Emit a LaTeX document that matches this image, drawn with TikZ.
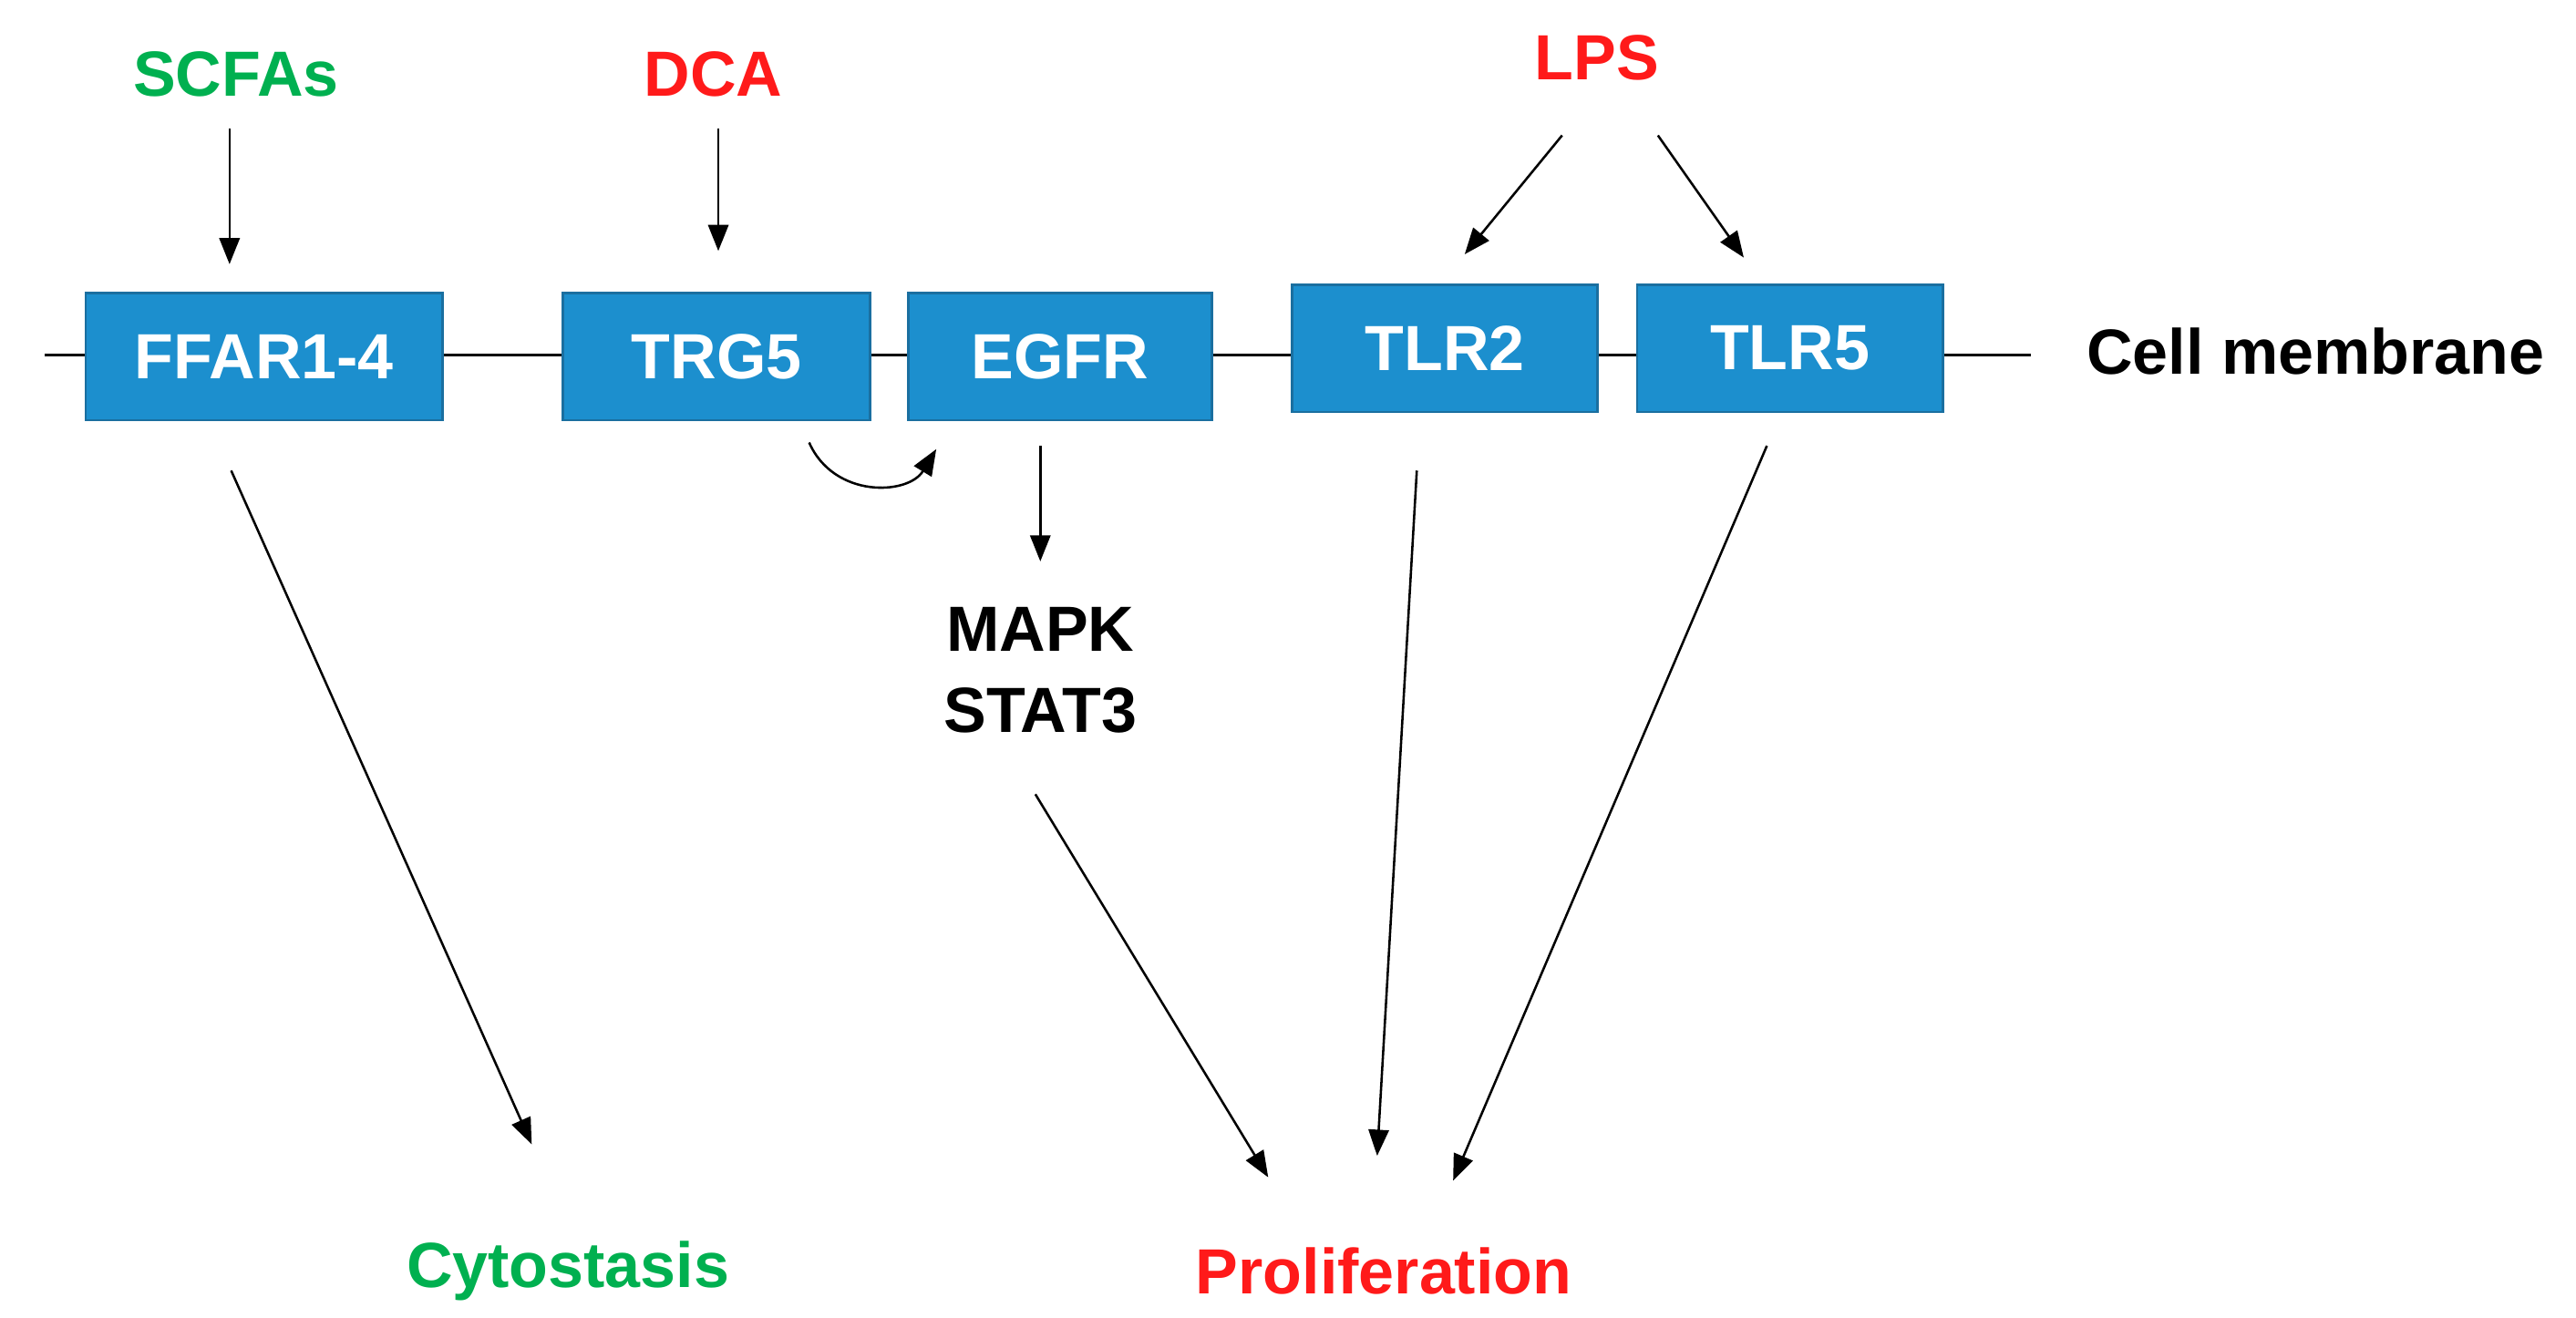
\documentclass[tikz,border=0pt]{standalone}
\usepackage{fontspec}
\setmainfont{Liberation Sans}
\usepackage{xcolor}
\usetikzlibrary{arrows.meta,positioning}
\definecolor{boxblue}{HTML}{1C8FCE}
\definecolor{boxedge}{HTML}{1A6FA0}
\definecolor{goodgreen}{HTML}{00B050}
\definecolor{badred}{HTML}{FF1A1A}
\tikzset{
  rec/.style={draw=boxedge, fill=boxblue, text=white, font=\fontsize{11}{13}\selectfont\bfseries,
    minimum height=0.77cm, inner sep=0pt},
  lbl/.style={font=\fontsize{11}{13}\selectfont\bfseries, inner sep=0pt},
  sig/.style={-{Triangle[length=4.5pt,width=3.5pt]}, thin}
}
\begin{document}
\begin{tikzpicture}[x=0.1mm,y=-0.1mm]
  \useasboundingbox (0,0) rectangle (1560,797.7);
  % membrane
  \coordinate (mL) at (27,215);
  \coordinate (mR) at (1230,215);
  \draw[thin] (mL) -- (mR);
  % receptors
  \node[rec, minimum width=2.16cm] (ffar) at (160,216) {FFAR1-4};
  \node[rec, minimum width=1.86cm] (trg)  at (434,216) {TRG5};
  \node[rec, minimum width=1.84cm] (egfr) at (642,216) {EGFR};
  \node[rec, minimum width=1.85cm] (tlr2) at (875,211) {TLR2};
  \node[rec, minimum width=1.85cm] (tlr5) at (1084,211) {TLR5};
  \node[lbl, anchor=west] (cm) at (1263,213) {Cell membrane};
  % ligands
  \node[lbl, text=goodgreen] (scfa) at (143,45) {SCFAs};
  \node[lbl, text=badred] (dca) at (432,45) {DCA};
  \node[lbl, text=badred] (lps) at (967,35) {LPS};
  % downstream
  \node[lbl, align=center] (mapk) at (630,406) {MAPK\\[1pt]STAT3};
  \node[lbl, text=goodgreen] (cyto) at (344,770) {Cytostasis};
  \node[lbl, text=badred] (prol) at (838,770) {Proliferation};
  % arrows
  \draw[sig] (139,78) -- (139,160);
  \draw[sig] (435,78) -- (435,152);
  \draw[sig] (946,82) -- (887,154);
  \draw[sig] (1004,82) -- (1056,156);
  \draw[sig] (490,268) .. controls (505,302) and (550,300) .. (567,272);
  \draw[sig] (630,270) -- (630,340);
  \draw[sig] (140,285) -- (322,693);
  \draw[sig] (627,481) -- (768,713);
  \draw[sig] (858,285) -- (834,700);
  \draw[sig] (1070,270) -- (880,715);
\end{tikzpicture}
\end{document}
